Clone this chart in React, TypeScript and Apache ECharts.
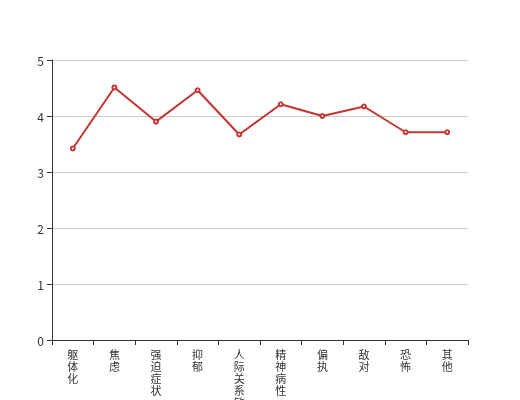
import React, { useEffect, useRef } from "react";
import * as echarts from "echarts";

const categories = ["躯体化", "焦虑", "强迫症状", "抑郁", "人际关系敏感", "精神病性", "偏执", "敌对", "恐怖", "其他"];
const values = [3.42, 4.51, 3.9, 4.46, 3.67, 4.21, 4.0, 4.17, 3.71, 3.71];
const yMin = 0;
const yMax = 5;
const yInterval = 1;

export default function App() {
  const ref = useRef<HTMLDivElement>(null);
  useEffect(() => {
    if (!ref.current) return;
    const chart = echarts.init(ref.current, undefined, { renderer: "svg" });
    chart.setOption({
      animation: false,
      textStyle: { fontFamily: "'Noto Sans CJK SC', sans-serif" },
      grid: { left: 52, right: 52, top: 60, bottom: 60, containLabel: false, outerBoundsMode: "none" },
      xAxis: {
        type: "category",
        data: categories,
        boundaryGap: true,
        axisLine: { show: true, lineStyle: { color: "#333" } },
        axisTick: { show: true, lineStyle: { color: "#333" } },
        axisLabel: {
          interval: 0,
          color: "#333",
          fontSize: 11,
          lineHeight: 12,
          margin: 8,
          formatter: (v: string) => v.split("").join("\n"),
        },
        splitLine: { show: false },
      },
      yAxis: {
        type: "value",
        min: yMin,
        max: yMax,
        interval: yInterval,
        axisLine: { show: true, lineStyle: { color: "#333" } },
        axisTick: { show: true, lineStyle: { color: "#333" } },
        axisLabel: { color: "#333", fontSize: 12 },
        splitLine: { show: true, lineStyle: { color: "#ccc" } },
      },
      series: [
        {
          type: "line",
          data: values,
          symbol: "emptyCircle",
          symbolSize: 4,
          itemStyle: { color: "#c23531" },
          lineStyle: { color: "#c23531", width: 2 },
        },
      ],
    });
    return () => chart.dispose();
  }, []);
  return (
    <div
      ref={ref}
      style={{ position: "fixed", left: 0, top: 0, width: 520, height: 400 }}
    />
  );
}
